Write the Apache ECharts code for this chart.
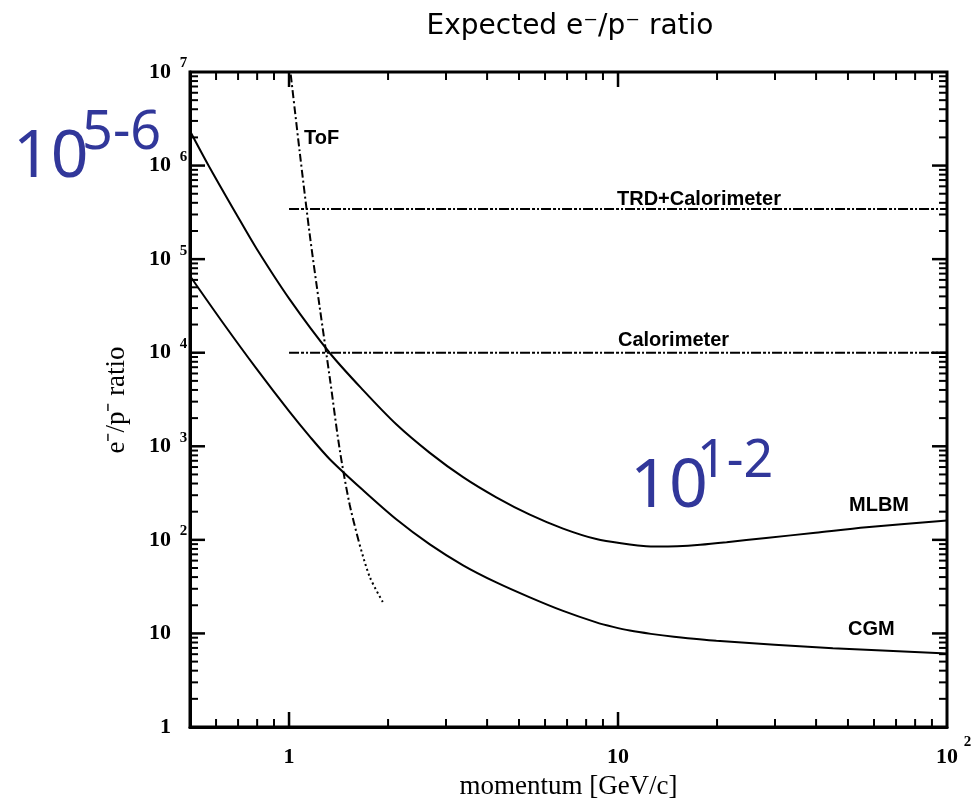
<!DOCTYPE html>
<html><head><meta charset="utf-8">
<script src="https://cdn.jsdelivr.net/npm/echarts@6/dist/echarts.min.js"></script>
<style>html,body{margin:0;padding:0;background:#fff}#c{width:972px;height:799px}</style>
</head><body><div id="c"></div>
<script>
// ---- data ----
const momentumMLBM = [0.5,0.5675,0.6918,0.7962,1.0046,1.33,1.679,2.118,2.679,3.381,4.266,5.395,6.808,8.59,10.86,11.48,13.18,15.14,17.78,21.38,28.18,39.81,56.89,100];
const ratioMLBM    = [2.344e6,1.023e6,3.02e5,1.30e5,3.715e4,9.93e3,3981,1718,851,468,285,186,132,102,89.1,87.1,84.7,85.5,88.7,94.4,104.7,119.1,136.1,161];

const momentumCGM = [0.5,0.631,0.794,1.0,1.155,1.33,1.679,2.118,2.679,3.381,4.266,5.395,6.808,8.59,9.66,10.86,12.59,14.79,19.91,44.98,100];
const ratioCGM    = [66069,20654,6839,2371,1276,728,339,166,89.5,53.5,35.1,24.3,17.4,13.12,11.75,10.72,9.89,9.23,8.36,6.95,6.11];

const momentumToF = [1.012,1.078,1.156,1.240,1.330,1.426,1.529,1.640];
const ratioToF    = [9.4e6,1.38e6,1.83e5,3.03e4,5.4e3,918,237,88.4];
const momentumToFTail = [1.640,1.759,1.927];
const ratioToFTail    = [88.4,40.2,21.7];

const thresholdSpan = [1, 100];
const ratioTRDCalorimeter = 3.44e5;
const ratioCalorimeter = 1e4;

const xMin = 0.5, xMax = 100, yMin = 1, yMax = 1e7;
const xMajorTicks = [1, 10];
const xMinorTicks = [0.6,0.7,0.8,0.9,2,3,4,5,6,7,8,9,20,30,40,50,60,70,80,90];
const yMajorTicks = [10,100,1e3,1e4,1e5,1e6];
const yMinorMantissas = [2,3,4,5,6,7,8,9];
const yDecades = [1,10,100,1e3,1e4,1e5,1e6];

const zip = (a, b) => a.map((v, i) => [v, b[i]]);
const yMinorTicks = [];
yDecades.forEach(d => yMinorMantissas.forEach(m => yMinorTicks.push(m * d)));

function tickSeries(values, isX, len, width) {
  return {
    type: 'custom', silent: true, clip: false, z: 6,
    data: values.map(v => isX ? [v, yMin] : [xMin, v]),
    renderItem: function (params, api) {
      const cs = params.coordSys;
      const st = {stroke: '#000', lineWidth: width};
      if (isX) {
        const px = api.coord([api.value(0), yMin])[0];
        const yb = cs.y + cs.height, yt = cs.y;
        return {type: 'group', children: [
          {type: 'line', shape: {x1: px, y1: yb, x2: px, y2: yb - len}, style: st},
          {type: 'line', shape: {x1: px, y1: yt, x2: px, y2: yt + len}, style: st}
        ]};
      } else {
        const py = api.coord([xMin, api.value(1)])[1];
        const xl = cs.x, xr = cs.x + cs.width;
        return {type: 'group', children: [
          {type: 'line', shape: {x1: xl, y1: py, x2: xl + len, y2: py}, style: st},
          {type: 'line', shape: {x1: xr, y1: py, x2: xr - len, y2: py}, style: st}
        ]};
      }
    }
  };
}

const isPow10 = v => Math.abs(Math.log10(v) - Math.round(Math.log10(v))) < 1e-6;
const serif = 'Liberation Serif';
const blue = '#31379a';
const annoFont = {fontFamily: 'Liberation Sans', fontWeight: 'bold', fontSize: 20, fill: '#000'};

const chart = echarts.init(document.getElementById('c'));
chart.setOption({
  animation: false,
  backgroundColor: '#fff',
  grid: {left: 190, right: 25, top: 72, bottom: 72, containLabel: false, outerBoundsMode: 'none',
         show: true, borderColor: '#000', borderWidth: 3, backgroundColor: 'transparent'},
  xAxis: {
    type: 'log', logBase: 10, min: xMin, max: xMax, splitNumber: 3,
    axisLine: {onZero: false, lineStyle: {color: '#000', width: 3}},
    axisTick: {show: false}, splitLine: {show: false},
    axisLabel: {
      margin: 8,
      formatter: function (v) {
        if (!isPow10(v) || v < 1) return '';
        const e = Math.round(Math.log10(v));
        if (e === 0) return '{p|}{b|1}{e|}';
        if (e === 1) return '{p|}{b|10}{e|}';
        return '{p|}{b|10}{e|' + e + '}';
      },
      rich: {
        b: {fontFamily: serif, fontWeight: 'bold', fontSize: 22, color: '#000', lineHeight: 44, verticalAlign: 'middle'},
        e: {fontFamily: serif, fontWeight: 'bold', fontSize: 15, color: '#000', lineHeight: 15, verticalAlign: 'top', width: 9, padding: [0, 0, 0, 5]},
        p: {width: 14}
      }
    },
    name: 'momentum [GeV/c]', nameLocation: 'middle', nameGap: 46,
    nameTextStyle: {fontFamily: serif, fontSize: 27, color: '#000'}
  },
  yAxis: {
    type: 'log', logBase: 10, min: yMin, max: yMax, splitNumber: 7,
    axisLine: {onZero: false, lineStyle: {color: '#000', width: 3}},
    axisTick: {show: false}, splitLine: {show: false},
    axisLabel: {
      margin: 1,
      formatter: function (v) {
        if (!isPow10(v)) return '';
        const e = Math.round(Math.log10(v));
        if (e === 0) return '{b|1}{e|}';
        if (e === 1) return '{b|10}{e|}';
        return '{b|10}{e|' + e + '}';
      },
      rich: {
        b: {fontFamily: serif, fontWeight: 'bold', fontSize: 22, color: '#000', lineHeight: 32, verticalAlign: 'middle'},
        e: {fontFamily: serif, fontWeight: 'bold', fontSize: 15, color: '#000', lineHeight: 15, verticalAlign: 'top', width: 11, padding: [0, 0, 0, 7], align: 'left'}
      }
    }
  },
  series: [
    {type: 'line', data: zip(momentumMLBM, ratioMLBM), smooth: 0.3, showSymbol: false, symbol: 'none', lineStyle: {color: '#000', width: 2}, z: 3},
    {type: 'line', data: zip(momentumCGM, ratioCGM), smooth: 0.3, showSymbol: false, symbol: 'none', lineStyle: {color: '#000', width: 2}, z: 3},
    {type: 'line', data: zip(momentumToF, ratioToF), smooth: 0.3, showSymbol: false, symbol: 'none', lineStyle: {color: '#000', width: 2, type: [8, 3, 2, 3]}, z: 3},
    {type: 'line', data: zip(momentumToFTail, ratioToFTail), smooth: 0.3, showSymbol: false, symbol: 'none', lineStyle: {color: '#000', width: 2, type: [2, 3]}, z: 3},
    {type: 'line', data: thresholdSpan.map(x => [x, ratioTRDCalorimeter]), showSymbol: false, symbol: 'none', lineStyle: {color: '#000', width: 2, type: [10, 2, 3, 2, 2, 2]}, z: 3},
    {type: 'line', data: thresholdSpan.map(x => [x, ratioCalorimeter]), showSymbol: false, symbol: 'none', lineStyle: {color: '#000', width: 2, type: [10, 2, 3, 2, 2, 2]}, z: 3},
    tickSeries(xMajorTicks, true, 15, 2.5),
    tickSeries(xMinorTicks, true, 8, 2),
    tickSeries(yMajorTicks, false, 15, 2.5),
    tickSeries(yMinorTicks, false, 8, 2)
  ],
  graphic: [
    {type: 'text', x: 570, y: 27, style: {text: 'Expected e\u207B/p\u207B ratio', fontFamily: 'DejaVu Sans', fontSize: 28, fill: '#000', textAlign: 'center', textVerticalAlign: 'middle'}},
    {type: 'text', x: 117, y: 400, rotation: Math.PI / 2, style: {text: 'e\u207B/p\u207B ratio', fontFamily: serif, fontSize: 27, fill: '#000', textAlign: 'center', textVerticalAlign: 'middle'}},
    {type: 'text', x: 304, y: 138, style: Object.assign({text: 'ToF', textVerticalAlign: 'middle'}, annoFont)},
    {type: 'text', x: 617, y: 199, style: Object.assign({text: 'TRD+Calorimeter', textVerticalAlign: 'middle'}, annoFont)},
    {type: 'text', x: 618, y: 340, style: Object.assign({text: 'Calorimeter', textVerticalAlign: 'middle'}, annoFont)},
    {type: 'text', x: 849, y: 505, style: Object.assign({text: 'MLBM', textVerticalAlign: 'middle'}, annoFont)},
    {type: 'text', x: 848, y: 629, style: Object.assign({text: 'CGM', textVerticalAlign: 'middle'}, annoFont)},
    {type: 'text', x: 13, y: 158, style: {text: '10', fontFamily: 'Noto Sans', fontSize: 66, fill: blue, textVerticalAlign: 'middle'}},
    {type: 'text', x: 82, y: 134, style: {text: '5-6', fontFamily: 'Noto Sans', fontSize: 54, fill: blue, textVerticalAlign: 'middle'}},
    {type: 'text', x: 630, y: 488, style: {text: '10', fontFamily: 'Noto Sans', fontSize: 68, fill: blue, textVerticalAlign: 'middle'}},
    {type: 'text', x: 697, y: 462, style: {text: '1-2', fontFamily: 'Noto Sans', fontSize: 52, fill: blue, textVerticalAlign: 'middle'}}
  ]
});
</script>
</body></html>
